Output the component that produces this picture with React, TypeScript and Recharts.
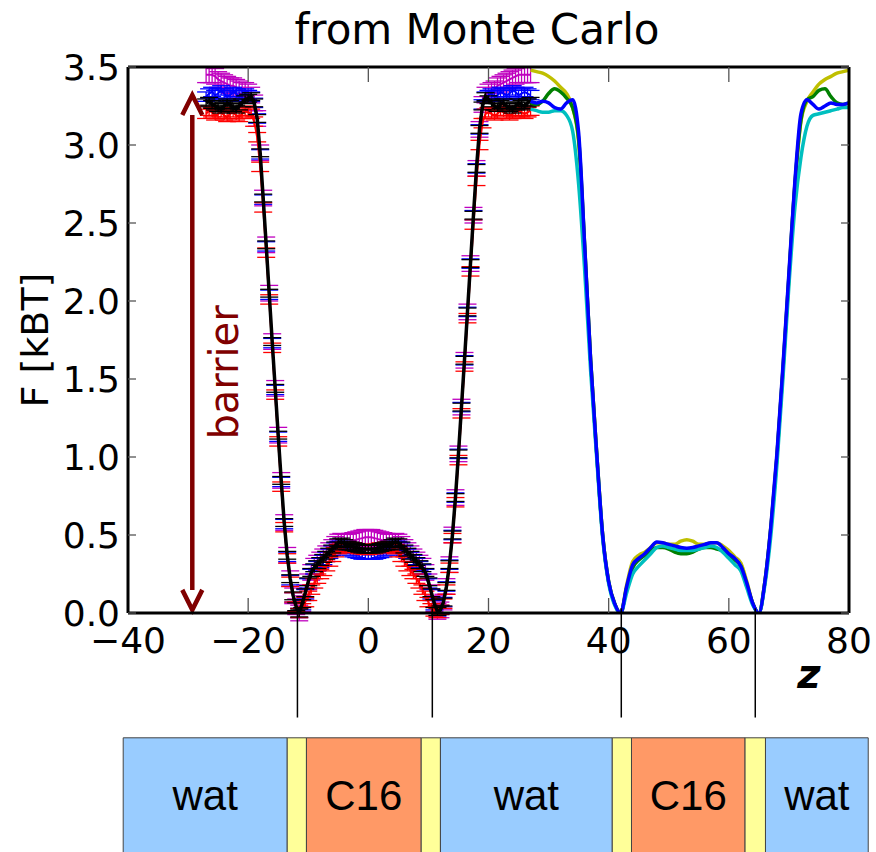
import React from "react";
import {
  ComposedChart,
  Line,
  XAxis,
  YAxis,
  ErrorBar,
  ReferenceLine,
  ReferenceArea,
} from "recharts";

// Monte Carlo samples, z grid
const zMc = [
  -27, -26.5, -26, -25.5, -25, -24.5, -24, -23.5, -23, -22.5,
  -22, -21.5, -21, -20.5, -20, -19.5, -19, -18.5, -18, -17.5,
  -17, -16.5, -16, -15.5, -15, -14.5, -14, -13.5, -13, -12.5,
  -12, -11.5, -11, -10.5, -10, -9.5, -9, -8.5, -8, -7.5,
  -7, -6.5, -6, -5.5, -5, -4.5, -4, -3.5, -3, -2.5,
  -2, -1.5, -1, -0.5, 0, 0.5, 1, 1.5, 2, 2.5,
  3, 3.5, 4, 4.5, 5, 5.5, 6, 6.5, 7, 7.5,
  8, 8.5, 9, 9.5, 10, 10.5, 11, 11.5, 12, 12.5,
  13, 13.5, 14, 14.5, 15, 15.5, 16, 16.5, 17, 17.5,
  18, 18.5, 19, 19.5, 20, 20.5, 21, 21.5, 22, 22.5,
  23, 23.5, 24, 24.5, 25, 25.5, 26, 26.5, 27,
];

const mcMagenta = [
  3.45, 3.45, 3.45, 3.44, 3.42, 3.41, 3.40, 3.39, 3.38, 3.38,
  3.37, 3.36, 3.35, 3.35, 3.34, 3.32, 3.27, 3.17, 2.95, 2.66,
  2.36, 2.05, 1.74, 1.44, 1.14, 0.85, 0.58, 0.37, 0.22, 0.11,
  0.04, 0.0, 0.06, 0.13, 0.20, 0.26, 0.30, 0.32, 0.34, 0.36,
  0.38, 0.40, 0.42, 0.44, 0.455, 0.46, 0.455, 0.455, 0.46, 0.465,
  0.47, 0.475, 0.48, 0.485, 0.485, 0.485, 0.48, 0.475, 0.47, 0.465,
  0.46, 0.455, 0.455, 0.46, 0.455, 0.44, 0.42, 0.40, 0.38, 0.36,
  0.34, 0.32, 0.30, 0.26, 0.20, 0.13, 0.06, 0.01, 0.02, 0.07,
  0.17, 0.31, 0.50, 0.74, 1.02, 1.32, 1.62, 1.93, 2.24, 2.55,
  2.85, 3.10, 3.26, 3.32, 3.34, 3.35, 3.36, 3.38, 3.39, 3.40,
  3.41, 3.42, 3.43, 3.44, 3.45, 3.45, 3.45, 3.45, 3.45,
];

const mcBlue = [
  3.31, 3.33, 3.34, 3.32, 3.33, 3.35, 3.33, 3.31, 3.32, 3.34,
  3.33, 3.31, 3.32, 3.33, 3.32, 3.31, 3.27, 3.17, 2.94, 2.65,
  2.35, 2.04, 1.73, 1.43, 1.13, 0.84, 0.57, 0.36, 0.21, 0.10,
  0.04, 0.0, 0.05, 0.12, 0.19, 0.25, 0.28, 0.30, 0.32, 0.34,
  0.36, 0.38, 0.40, 0.42, 0.43, 0.43, 0.42, 0.41, 0.40, 0.39,
  0.385, 0.38, 0.375, 0.375, 0.375, 0.375, 0.375, 0.38, 0.385, 0.39,
  0.40, 0.41, 0.42, 0.43, 0.43, 0.42, 0.40, 0.38, 0.36, 0.34,
  0.32, 0.30, 0.28, 0.25, 0.19, 0.12, 0.05, 0.01, 0.02, 0.07,
  0.17, 0.31, 0.50, 0.74, 1.02, 1.32, 1.62, 1.93, 2.24, 2.55,
  2.85, 3.10, 3.26, 3.31, 3.32, 3.33, 3.31, 3.32, 3.34, 3.33,
  3.32, 3.33, 3.35, 3.34, 3.32, 3.33, 3.34, 3.33, 3.32,
];

const mcRed = [
  3.20, 3.22, 3.21, 3.19, 3.20, 3.21, 3.19, 3.18, 3.20, 3.21,
  3.19, 3.18, 3.20, 3.22, 3.21, 3.20, 3.15, 3.05, 2.86, 2.60,
  2.31, 2.01, 1.70, 1.40, 1.10, 0.81, 0.55, 0.35, 0.20, 0.10,
  0.04, 0.0, 0.03, 0.07, 0.11, 0.15, 0.19, 0.22, 0.25, 0.27,
  0.30, 0.33, 0.36, 0.39, 0.41, 0.42, 0.425, 0.425, 0.42, 0.42,
  0.415, 0.41, 0.41, 0.405, 0.405, 0.41, 0.41, 0.415, 0.42, 0.42,
  0.425, 0.425, 0.42, 0.41, 0.39, 0.36, 0.33, 0.30, 0.27, 0.25,
  0.22, 0.19, 0.15, 0.11, 0.07, 0.03, 0.01, 0.0, 0.02, 0.06,
  0.15, 0.29, 0.48, 0.71, 0.98, 1.28, 1.58, 1.89, 2.19, 2.49,
  2.77, 3.00, 3.14, 3.20, 3.21, 3.20, 3.19, 3.20, 3.22, 3.21,
  3.20, 3.19, 3.20, 3.21, 3.22, 3.21, 3.20, 3.21, 3.22,
];

const mcBlack = [
  3.27, 3.28, 3.26, 3.25, 3.24, 3.23, 3.25, 3.27, 3.26, 3.24,
  3.23, 3.25, 3.27, 3.29, 3.30, 3.31, 3.27, 3.17, 2.95, 2.66,
  2.36, 2.05, 1.74, 1.44, 1.14, 0.85, 0.58, 0.37, 0.22, 0.11,
  0.04, 0.0, 0.06, 0.13, 0.20, 0.26, 0.29, 0.31, 0.33, 0.35,
  0.37, 0.39, 0.41, 0.43, 0.45, 0.455, 0.445, 0.435, 0.43, 0.425,
  0.42, 0.415, 0.41, 0.41, 0.41, 0.41, 0.41, 0.415, 0.42, 0.425,
  0.43, 0.435, 0.445, 0.455, 0.45, 0.43, 0.41, 0.39, 0.37, 0.35,
  0.33, 0.31, 0.29, 0.26, 0.20, 0.13, 0.06, 0.01, 0.02, 0.07,
  0.17, 0.31, 0.50, 0.74, 1.02, 1.32, 1.62, 1.93, 2.24, 2.55,
  2.85, 3.10, 3.25, 3.31, 3.29, 3.27, 3.25, 3.24, 3.26, 3.27,
  3.25, 3.24, 3.23, 3.25, 3.27, 3.26, 3.25, 3.27, 3.28,
];

// error bar half-heights per Monte Carlo run
const mcErr = { magenta: 0.05, blue: 0.03, red: 0.03, black: 0.025 };

// smooth profiles on the second period
const zCurve = [
  27, 28, 29, 30, 31, 32, 33, 34, 35, 36,
  37, 38, 39, 40, 41, 42, 43, 44, 45, 46,
  47, 48, 49, 50, 51, 52, 53, 54, 55, 56,
  57, 58, 59, 60, 61, 62, 63, 64, 65, 66,
  67, 68, 69, 70, 71, 72, 73, 74, 75, 76,
  77, 78, 79, 80,
];

const curveYellow = [
  3.48, 3.47, 3.46, 3.44, 3.41, 3.37, 3.33, 3.24, 3.02, 2.35,
  1.62, 1.03, 0.50, 0.20, 0.06, 0.0, 0.18, 0.33, 0.37, 0.39,
  0.42, 0.45, 0.45, 0.44, 0.44, 0.46, 0.47, 0.46, 0.44, 0.44,
  0.45, 0.45, 0.43, 0.40, 0.36, 0.32, 0.20, 0.06, 0.0, 0.20,
  0.55, 1.00, 1.55, 2.15, 2.74, 3.15, 3.28, 3.34, 3.39, 3.42,
  3.44, 3.46, 3.47, 3.48,
];

const curveGreen = [
  3.27, 3.26, 3.28, 3.33, 3.36, 3.34, 3.30, 3.24, 3.04, 2.36,
  1.62, 1.03, 0.50, 0.20, 0.06, 0.0, 0.16, 0.29, 0.34, 0.37,
  0.40, 0.42, 0.42, 0.41, 0.39, 0.38, 0.38, 0.39, 0.41, 0.42,
  0.42, 0.41, 0.40, 0.37, 0.34, 0.30, 0.18, 0.06, 0.0, 0.20,
  0.55, 1.00, 1.56, 2.16, 2.75, 3.16, 3.29, 3.31, 3.35, 3.36,
  3.31, 3.27, 3.26, 3.27,
];

const curveCyan = [
  3.23, 3.22, 3.21, 3.21, 3.22, 3.22, 3.19, 3.09, 2.75, 2.20,
  1.55, 1.00, 0.48, 0.19, 0.05, 0.0, 0.13, 0.25, 0.30, 0.34,
  0.38, 0.42, 0.43, 0.42, 0.41, 0.40, 0.40, 0.40, 0.41, 0.42,
  0.43, 0.42, 0.39, 0.35, 0.31, 0.27, 0.16, 0.05, 0.0, 0.18,
  0.50, 0.95, 1.50, 2.10, 2.60, 2.92, 3.12, 3.19, 3.20, 3.21,
  3.22, 3.23, 3.24, 3.24,
];

const curveBlue = [
  3.28, 3.27, 3.28, 3.27, 3.24, 3.23, 3.27, 3.29, 3.08, 2.36,
  1.62, 1.03, 0.50, 0.20, 0.06, 0.0, 0.17, 0.31, 0.35, 0.38,
  0.42, 0.455, 0.45, 0.44, 0.43, 0.42, 0.415, 0.42, 0.43, 0.44,
  0.45, 0.45, 0.42, 0.38, 0.35, 0.30, 0.19, 0.06, 0.0, 0.20,
  0.56, 1.02, 1.58, 2.18, 2.77, 3.20, 3.29, 3.26, 3.23, 3.25,
  3.27, 3.26, 3.26, 3.27,
];

const xTicks = [-40, -20, 0, 20, 40, 60, 80];
const yTicks = [0, 0.5, 1, 1.5, 2, 2.5, 3, 3.5];

// membrane interfaces and the layer strip underneath
const interfaces = [-11.8, 10.65, 42.1, 64.4];
const layerEdges = [-40.8, -13.5, -10.3, 8.8, 12.0, 40.6, 43.8, 62.7, 66.1, 83.2];
const layerKinds = ["wat", "head", "C16", "head", "wat", "head", "C16", "head", "wat"];

const barrierZ = -29.3;
const barrierRange = [0.02, 3.32];

const layerFill: Record<string, string> = {
  wat: "#99ccff",
  head: "#ffff99",
  C16: "#ff9966",
};

const mcRows = zMc.map((z, i) => ({
  z,
  m: mcMagenta[i],
  b: mcBlue[i],
  r: mcRed[i],
  k: mcBlack[i],
  em: mcErr.magenta,
  eb: mcErr.blue,
  er: mcErr.red,
  ek: mcErr.black,
}));

const curveRows = zCurve.map((z, i) => ({
  z,
  y: curveYellow[i],
  g: curveGreen[i],
  c: curveCyan[i],
  b: curveBlue[i],
}));

const FONT = "'DejaVu Sans', 'Noto Sans', sans-serif";
const tickFont = { fontSize: 36, fill: "#000", fontFamily: FONT };
const frameLine = { stroke: "#000", strokeWidth: 3 };
const tickMark = { stroke: "#555", strokeWidth: 1.3 };
// top/right axes only carry tick marks, no labels
const noLabel = { fontSize: 1, fill: "none" };
const blank = () => "";

const fmtX = (v: number) => (v < 0 ? `\u2212${Math.abs(v)}` : `${v}`);
const fmtY = (v: number) => v.toFixed(1);

// double-headed arrow with its rotated caption
const BarrierArrow = (props: any) => {
  const { x1, y1, y2 } = props;
  const top = Math.min(y1, y2);
  const bottom = Math.max(y1, y2);
  const head = 20;
  const half = 10;
  const ty = (top + bottom) / 2 + 20;
  const tx = x1 + 46;
  return (
    <g>
      <g stroke="#800000" strokeWidth={4.5} fill="none">
        <line x1={x1} y1={top + head} x2={x1} y2={bottom - head} />
        <polyline points={`${x1 - half},${top + head} ${x1},${top} ${x1 + half},${top + head}`} />
        <polyline
          points={`${x1 - half},${bottom - head} ${x1},${bottom} ${x1 + half},${bottom - head}`}
        />
      </g>
      <text
        x={tx}
        y={ty}
        transform={`rotate(-90 ${tx} ${ty})`}
        textAnchor="middle"
        fontSize={40}
        fontFamily={FONT}
        fill="#800000"
      >
        barrier
      </text>
    </g>
  );
};

export default function App() {
  return (
    <div
      style={{
        position: "absolute",
        left: 0,
        top: 0,
        width: 876,
        height: 852,
        background: "#fff",
        fontFamily: FONT,
      }}
    >
      <ComposedChart
        width={876}
        height={852}
        margin={{ top: 66, right: 26, bottom: 199, left: 28 }}
      >
        <XAxis
          dataKey="z"
          type="number"
          domain={[-40, 80]}
          ticks={xTicks}
          interval={0}
          allowDataOverflow
          height={40}
          tickSize={-15}
          tickMargin={29}
          tickFormatter={fmtX}
          tick={tickFont}
          axisLine={frameLine}
          tickLine={tickMark}
        />
        <XAxis
          xAxisId="top"
          orientation="top"
          dataKey="z"
          type="number"
          domain={[-40, 80]}
          ticks={xTicks}
          interval={0}
          allowDataOverflow
          height={1}
          tickSize={-15}
          tick={noLabel}
          tickFormatter={blank}
          axisLine={frameLine}
          tickLine={tickMark}
        />
        <YAxis
          type="number"
          domain={[0, 3.5]}
          ticks={yTicks}
          interval={0}
          allowDataOverflow
          width={100}
          tickSize={-8}
          tickMargin={16}
          tickFormatter={fmtY}
          tick={tickFont}
          axisLine={frameLine}
          tickLine={tickMark}
        />
        <YAxis
          yAxisId="right"
          orientation="right"
          type="number"
          domain={[0, 3.5]}
          ticks={yTicks}
          interval={0}
          allowDataOverflow
          width={1}
          tickSize={-8}
          tick={noLabel}
          tickFormatter={blank}
          axisLine={frameLine}
          tickLine={tickMark}
        />

        {/* Monte Carlo runs with error bars */}
        <Line data={mcRows} dataKey="m" type="linear" stroke="#bf00bf" strokeWidth={2}
          dot={false} activeDot={false} isAnimationActive={false}>
          <ErrorBar dataKey="em" width={9} stroke="#bf00bf" strokeWidth={1.3} direction="y"
            isAnimationActive={false} />
        </Line>
        <Line data={mcRows} dataKey="b" type="linear" stroke="#0000ff" strokeWidth={2}
          dot={false} activeDot={false} isAnimationActive={false}>
          <ErrorBar dataKey="eb" width={9} stroke="#0000ff" strokeWidth={1.3} direction="y"
            isAnimationActive={false} />
        </Line>
        <Line data={mcRows} dataKey="r" type="linear" stroke="#ff0000" strokeWidth={2}
          dot={false} activeDot={false} isAnimationActive={false}>
          <ErrorBar dataKey="er" width={9} stroke="#ff0000" strokeWidth={1.3} direction="y"
            isAnimationActive={false} />
        </Line>
        <Line data={mcRows} dataKey="k" type="linear" stroke="#000" strokeWidth={3.5}
          dot={false} activeDot={false} isAnimationActive={false}>
          <ErrorBar dataKey="ek" width={9} stroke="#000" strokeWidth={1.3} direction="y"
            isAnimationActive={false} />
        </Line>

        {/* smooth profiles */}
        <Line data={curveRows} dataKey="y" type="monotone" stroke="#bfbf00" strokeWidth={3.5}
          dot={false} activeDot={false} isAnimationActive={false} />
        <Line data={curveRows} dataKey="g" type="monotone" stroke="#008000" strokeWidth={3.5}
          dot={false} activeDot={false} isAnimationActive={false} />
        <Line data={curveRows} dataKey="c" type="monotone" stroke="#00bfbf" strokeWidth={3.5}
          dot={false} activeDot={false} isAnimationActive={false} />
        <Line data={curveRows} dataKey="b" type="monotone" stroke="#0000ff" strokeWidth={3.5}
          dot={false} activeDot={false} isAnimationActive={false} />

        <ReferenceLine
          segment={[
            { x: barrierZ, y: barrierRange[0] },
            { x: barrierZ, y: barrierRange[1] },
          ]}
          ifOverflow="visible"
          shape={BarrierArrow}
        />

        {interfaces.map((z) => (
          <ReferenceLine
            key={`if-${z}`}
            segment={[
              { x: z, y: 0.03 },
              { x: z, y: -0.67 },
            ]}
            ifOverflow="visible"
            stroke="#000"
            strokeWidth={1.5}
          />
        ))}

        {layerKinds.map((kind, i) => (
          <ReferenceArea
            key={`layer-${i}`}
            x1={layerEdges[i]}
            x2={layerEdges[i + 1]}
            y1={-0.8}
            y2={-1.54}
            ifOverflow="visible"
            fill={layerFill[kind]}
            fillOpacity={1}
            stroke="#444"
            strokeWidth={1}
            label={
              kind === "head"
                ? undefined
                : {
                    value: kind,
                    position: "center",
                    fontSize: 42,
                    fill: "#000",
                    fontFamily: "'Liberation Sans', Arial, sans-serif",
                  }
            }
          />
        ))}
      </ComposedChart>

      <svg
        width={876}
        height={852}
        style={{ position: "absolute", left: 0, top: 0, pointerEvents: "none" }}
      >
        <text x={477} y={44} textAnchor="middle" fontSize={42} fontFamily={FONT} fill="#000">
          from Monte Carlo
        </text>
        <text
          x={48}
          y={340}
          transform="rotate(-90 48 340)"
          textAnchor="middle"
          fontSize={38}
          fontFamily={FONT}
          fill="#000"
        >
          F [kBT]
        </text>
        <text
          x={809}
          y={688}
          textAnchor="middle"
          fontSize={40}
          fontWeight="bold"
          fontStyle="italic"
          fontFamily={FONT}
          fill="#000"
        >
          z
        </text>
      </svg>
    </div>
  );
}
